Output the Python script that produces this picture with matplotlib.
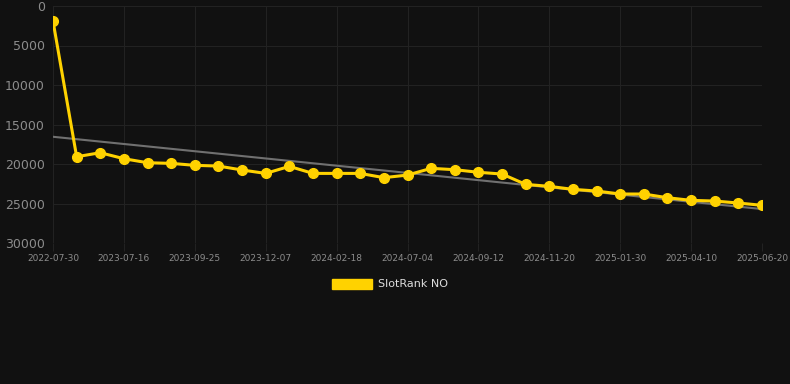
import numpy as np
import matplotlib.pyplot as plt
from matplotlib.patches import Patch

# rank values, one per snapshot (equally spaced categories)
ranks = [1900, 19080, 18570, 19330, 19840, 19920, 20170, 20260, 20760, 21190,
         20300, 21190, 21190, 21190, 21730, 21400, 20550, 20720, 21050, 21270,
         22580, 22830, 23210, 23420, 23800, 23800, 24270, 24600, 24690, 24940,
         25230]
tick_labels = ["2022-07-30", "2023-07-16", "2023-09-25", "2023-12-07",
               "2024-02-18", "2024-07-04", "2024-09-12", "2024-11-20",
               "2025-01-30", "2025-04-10", "2025-06-20"]
label_every = 3
series_name = "SlotRank NO"

bg = "#111111"
gold = "#FFD200"

x = np.arange(len(ranks))
slope, icept = np.polyfit(x, ranks, 1)

fig = plt.figure(figsize=(7.9, 3.84), dpi=100, facecolor=bg)
ax = fig.add_axes([53 / 790, 1 - 243 / 384, (762 - 53) / 790, (243 - 6) / 384])
ax.set_facecolor(bg)

ax.plot(x, slope * x + icept, color="#707070", lw=1.5, zorder=2)
ax.plot(x, ranks, color=gold, lw=2.2, marker="o", ms=7,
        markerfacecolor=gold, markeredgecolor=gold, zorder=3)

ax.set_xlim(0, len(ranks) - 1)
ax.set_ylim(30000, 0)
ax.set_yticks(np.arange(0, 30001, 5000))
ax.set_xticks(x[::label_every])
ax.set_xticklabels(tick_labels)

ax.grid(True, color="#222222", lw=0.75)
ax.set_axisbelow(True)
for s in ax.spines.values():
    s.set_visible(False)
ax.tick_params(axis="y", length=0, pad=6, labelsize=9, labelcolor="#8c8c8c")
ax.tick_params(axis="x", length=6, width=0.75, color="#222222", pad=2,
               labelsize=6.5, labelcolor="#8c8c8c")

fig.legend(handles=[Patch(facecolor=gold, edgecolor=gold, label=series_name)],
           loc="center", bbox_to_anchor=(390 / 790, 1 - 284 / 384),
           frameon=False, fontsize=8, labelcolor="#dddddd",
           handlelength=3.6, handleheight=1.0, handletextpad=0.5)

fig.savefig("out.png", dpi=100, facecolor=bg)
